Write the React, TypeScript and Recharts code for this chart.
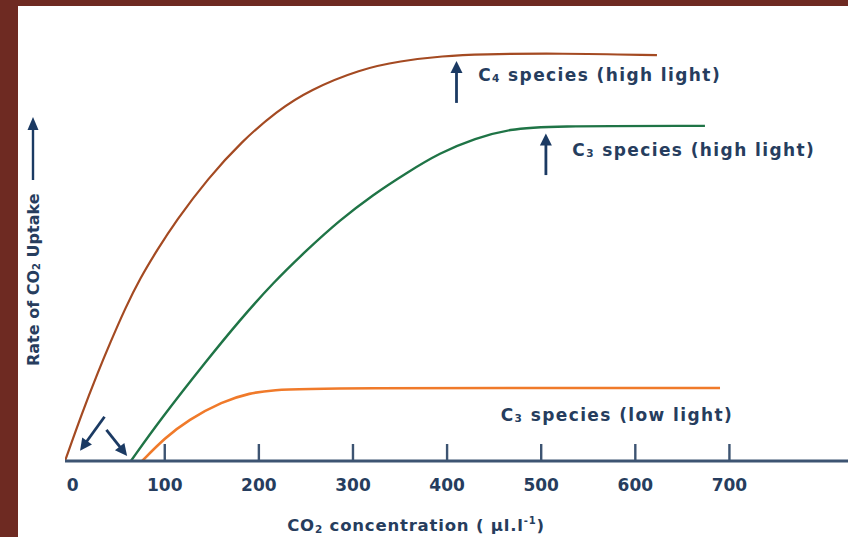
import React from "react";
import { LineChart, Line, XAxis, YAxis, ReferenceLine, ReferenceDot, Label } from "recharts";

// ---- data (x: CO2 concentration µl/l, y: relative uptake rate 0..100) ----
const c4High = [
  { x: -6, y: 0 }, { x: 12, y: 10.6 }, { x: 29, y: 19.7 }, { x: 42, y: 26.2 },
  { x: 58, y: 33.9 }, { x: 74, y: 40.6 }, { x: 92, y: 46.8 }, { x: 111, y: 53.0 },
  { x: 146, y: 62.7 }, { x: 182, y: 70.9 }, { x: 219, y: 77.6 }, { x: 254, y: 82.3 },
  { x: 308, y: 86.9 }, { x: 350, y: 88.7 }, { x: 396, y: 89.8 }, { x: 435, y: 90.2 },
  { x: 520, y: 90.4 }, { x: 623, y: 90.0 },
];
const c3High = [
  { x: 64, y: 0 }, { x: 95, y: 9.1 }, { x: 145, y: 22.4 }, { x: 180, y: 31.3 },
  { x: 215, y: 39.5 }, { x: 251, y: 46.8 }, { x: 286, y: 53.4 }, { x: 321, y: 59.0 },
  { x: 357, y: 63.9 }, { x: 392, y: 68.3 }, { x: 430, y: 71.6 }, { x: 467, y: 73.6 },
  { x: 506, y: 74.3 }, { x: 674, y: 74.3 },
];
const c3Low = [
  { x: 76, y: 0 }, { x: 100, y: 5.1 }, { x: 125, y: 9.1 }, { x: 161, y: 13.2 },
  { x: 191, y: 15.1 }, { x: 214, y: 15.7 }, { x: 260, y: 16.2 }, { x: 690, y: 16.2 },
];
const xTicks = [0, 100, 200, 300, 400, 500, 600, 700];

// annotation arrows: [tail, tip]
const arrows = [
  [{ x: 410, y: 79.4 }, { x: 410, y: 88.7 }],
  [{ x: 505, y: 63.4 }, { x: 505, y: 72.6 }],
  [{ x: 36, y: 9.8 }, { x: 10, y: 2.3 }],
  [{ x: 38, y: 6.9 }, { x: 60, y: 1.1 }],
];
// annotation labels: position, main text, subscript, rest
const labels = [
  { x: 433, y: 84.3, main: "C", sub: "4", rest: " species (high light)" },
  { x: 533, y: 67.6, main: "C", sub: "3", rest: " species (high light)" },
  { x: 457, y: 8.9, main: "C", sub: "3", rest: " species (low light)" },
];

const NAVY = "#1b3a63";
const TEXT = "#263d5e";
const AXIS = "#3d5472";
const FONT = "'DejaVu Sans', Verdana, sans-serif";

const ArrowShape = (p: any) => {
  const { x1, y1, x2, y2 } = p;
  if ([x1, y1, x2, y2].some((v) => v === undefined || isNaN(v))) return null;
  const dx = x2 - x1, dy = y2 - y1;
  const len = Math.hypot(dx, dy) || 1;
  const ux = dx / len, uy = dy / len;
  const hl = 12, hw = 6;
  const bx = x2 - ux * hl, by = y2 - uy * hl;
  const px = -uy, py = ux;
  return (
    <g>
      <line x1={x1} y1={y1} x2={bx + ux * 2} y2={by + uy * 2} stroke={NAVY} strokeWidth={2.8} />
      <polygon
        points={`${x2},${y2} ${bx + px * hw},${by + py * hw} ${bx - px * hw},${by - py * hw}`}
        fill={NAVY}
      />
    </g>
  );
};

const makeLabelShape = (l: { main: string; sub: string; rest: string }) => (p: any) => {
  const { cx, cy } = p;
  return (
    <text x={cx} y={cy} fill={TEXT} fontFamily={FONT} fontWeight="bold" fontSize={17} letterSpacing={1.4}>
      <tspan>{l.main}</tspan>
      <tspan fontSize={10.5} dy={1}>{l.sub}</tspan>
      <tspan dy={-1}>{l.rest}</tspan>
    </text>
  );
};

const XTick = (p: any) => {
  const { x, y, payload } = p;
  const v = payload.value;
  return (
    <g>
      {v !== 0 && <line x1={x} y1={y - 17} x2={x} y2={y} stroke={AXIS} strokeWidth={2.4} />}
      <text x={v === 0 ? x + 2 : x} y={y + 30} textAnchor="middle" fill={TEXT} fontFamily={FONT} fontWeight="bold" fontSize={17}>
        {v}
      </text>
    </g>
  );
};

const Titles = () => (
  <g>
    <text x={416} y={531} textAnchor="middle" fill={TEXT} fontFamily={FONT} fontWeight="bold" fontSize={16.5} letterSpacing={0.8}>
      <tspan>CO</tspan>
      <tspan fontSize={10.5} dy={2}>2</tspan>
      <tspan dy={-2}> concentration ( µl.l</tspan>
      <tspan fontSize={10} dy={-7}>-1</tspan>
      <tspan dy={7}>)</tspan>
    </text>
    <g transform="translate(39, 366) rotate(-90)">
      <text x={0} y={0} fill={TEXT} fontFamily={FONT} fontWeight="bold" fontSize={16}>
        <tspan>Rate of CO</tspan>
        <tspan fontSize={10} dy={1}>2</tspan>
        <tspan dy={-1}> Uptake</tspan>
      </text>
      <line x1={186} y1={-6} x2={238} y2={-6} stroke={NAVY} strokeWidth={2.4} />
      <polygon points="249,-6 236,-11.5 236,-0.5" fill={NAVY} />
    </g>
  </g>
);

export default function App() {
  return (
    <div style={{ position: "absolute", left: 0, top: 0, width: 848, height: 537, background: "#ffffff", overflow: "hidden" }}>
      <LineChart width={848} height={537} margin={{ top: 10, right: 0, left: 65, bottom: 0 }}>
        <XAxis
          type="number"
          dataKey="x"
          domain={[-6, 826]}
          ticks={xTicks}
          allowDataOverflow
          height={76}
          tickSize={0}
          tickMargin={0}
          tickLine={false}
          axisLine={{ stroke: AXIS, strokeWidth: 2.8 }}
          tick={<XTick />}
          interval={0}
        >
          <Label content={<Titles />} />
        </XAxis>
        <YAxis
          type="number"
          domain={[0, 100]}
          width={0}
          tick={false}
          tickLine={false}
          axisLine={{ stroke: AXIS, strokeWidth: 2.8 }}
        />
        <Line data={c4High} dataKey="y" type="basis" stroke="#a44a22" strokeWidth={2.2} dot={false} isAnimationActive={false} />
        <Line data={c3High} dataKey="y" type="basis" stroke="#1f7446" strokeWidth={2.4} dot={false} isAnimationActive={false} />
        <Line data={c3Low} dataKey="y" type="basis" stroke="#f07a2a" strokeWidth={2.6} dot={false} isAnimationActive={false} />
        {arrows.map((a, i) => (
          <ReferenceLine key={`a${i}`} segment={a} ifOverflow="visible" shape={ArrowShape} />
        ))}
        {labels.map((l, i) => (
          <ReferenceDot key={`l${i}`} x={l.x} y={l.y} r={0} ifOverflow="visible" shape={makeLabelShape(l)} />
        ))}
      </LineChart>
      <div style={{ position: "absolute", left: 0, top: 0, width: 848, height: 6, background: "#6e2a22" }} />
      <div style={{ position: "absolute", left: 0, top: 0, width: 18, height: 537, background: "#6e2a22" }} />
    </div>
  );
}
